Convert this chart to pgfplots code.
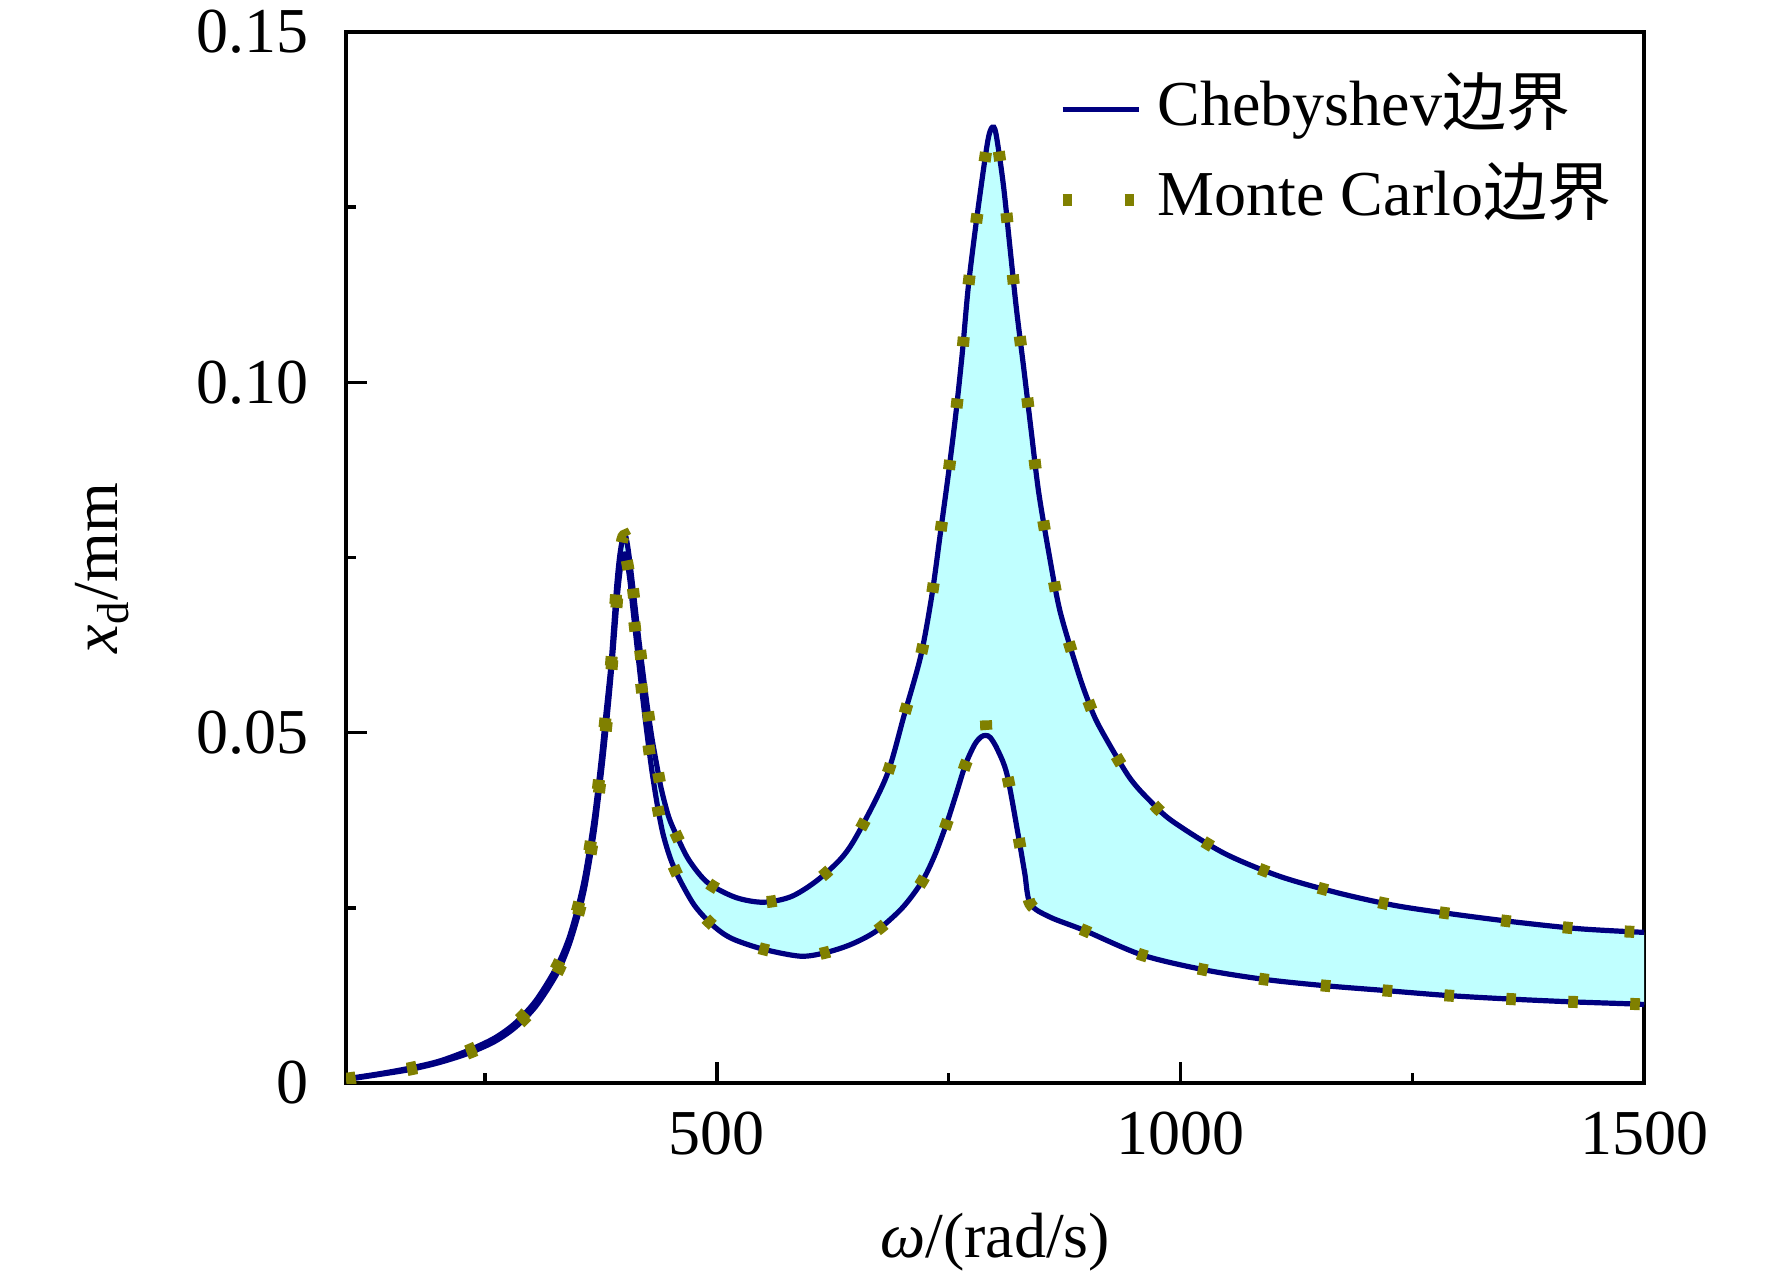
\documentclass[border=0pt]{standalone}
\usepackage{fontspec}
\setmainfont{Liberation Serif}
\newfontfamily\cjk{Noto Sans CJK SC}
\usepackage{pgfplots}
\pgfplotsset{compat=1.18}
\usepgfplotslibrary{fillbetween}
\usepackage{pgfplotstable}
\definecolor{cheb}{RGB}{0,0,128}
\definecolor{mc}{RGB}{128,128,0}
\definecolor{band}{RGB}{192,255,255}

\pgfplotstableread{
x y
100 0.0006
135 0.0013
168 0.0021
200 0.0031
231 0.0046
260 0.0064
283 0.0086
305 0.0118
327 0.0165
340 0.0205
350 0.0250
357 0.0290
363 0.0336
368 0.0380
372 0.0423
376 0.0470
379 0.0510
383 0.0560
386 0.0600
389 0.0655
392 0.0710
395 0.0750
398 0.0775
400 0.0781
402 0.0779
405 0.0755
410 0.0700
415 0.0642
420 0.0588
425 0.0537
430 0.0492
435 0.0455
440 0.0420
448 0.0380
457 0.0352
470 0.0318
490 0.0286
520 0.0265
550 0.0258
580 0.0266
608 0.0289
635 0.0322
653 0.0358
683 0.0438
702 0.0525
720 0.0610
732 0.0697
741 0.0784
750 0.0872
758 0.0958
765 0.1046
771 0.1134
779 0.1221
788 0.1308
793 0.1350
797 0.1364
801 0.1355
809 0.1282
816 0.1194
823 0.1106
831 0.1020
839 0.0931
847 0.0844
858 0.0757
870 0.0674
889 0.0589
900 0.0547
912 0.0510
944 0.0438
967 0.0403
991 0.0374
1047 0.0328
1107 0.0295
1171 0.0271
1233 0.0253
1300 0.0240
1366 0.0229
1432 0.0220
1500 0.0215
}\tabU

\pgfplotstableread{
x y
100 0.0005
135 0.0012
168 0.0019
200 0.0029
231 0.0042
260 0.0059
283 0.0080
305 0.0110
327 0.0155
340 0.0195
350 0.0238
357 0.0276
363 0.0320
368 0.0362
372 0.0405
376 0.0450
380 0.0500
384 0.0555
387 0.0600
390 0.0650
393 0.0700
396 0.0735
399 0.0752
401 0.0755
403 0.0745
406 0.0720
410 0.0670
415 0.0610
420 0.0550
425 0.0495
430 0.0445
436 0.0395
442 0.0355
450 0.0320
460 0.0290
475 0.0255
490 0.0232
505 0.0215
520 0.0204
550 0.0191
590 0.0181
617 0.0186
645 0.0198
672 0.0217
700 0.0250
721 0.0287
735 0.0325
748 0.0371
758 0.0412
768 0.0454
778 0.0483
785 0.0494
790 0.0496
795 0.0493
803 0.0475
813 0.0440
825 0.0354
832 0.0300
838 0.0256
859 0.0237
896 0.0218
958 0.0183
1024 0.0162
1090 0.0148
1155 0.0139
1221 0.0132
1287 0.0125
1353 0.0120
1419 0.0116
1485 0.0113
1500 0.0112
}\tabL

\pgfplotstableread{
x y
100 0.0005
135 0.0012
168 0.0019
200 0.0029
231 0.0042
260 0.0059
283 0.0080
305 0.0110
327 0.0155
340 0.0195
350 0.0238
357 0.0276
363 0.0320
368 0.0362
372 0.0405
376 0.0450
380 0.0500
384 0.0555
387 0.0600
390 0.0650
393 0.0700
396 0.0735
399 0.0752
401 0.0755
403 0.0745
406 0.0720
410 0.0670
415 0.0610
420 0.0550
425 0.0495
430 0.0445
436 0.0395
442 0.0355
450 0.0320
460 0.0290
475 0.0255
490 0.0232
505 0.0215
520 0.0204
550 0.0191
590 0.0181
617 0.0186
645 0.0198
672 0.0217
700 0.0250
721 0.0287
735 0.0325
748 0.0371
758 0.0412
768 0.0454
778 0.0483
785 0.0494
789 0.0500
790 0.0522
791 0.0500
795 0.0493
803 0.0475
813 0.0440
825 0.0354
832 0.0300
838 0.0256
859 0.0237
896 0.0218
958 0.0183
1024 0.0162
1090 0.0148
1155 0.0139
1221 0.0132
1287 0.0125
1353 0.0120
1419 0.0116
1485 0.0113
1500 0.0112
}\tabML

\begin{document}
\fontsize{16}{19.2}\selectfont
\begin{tikzpicture}
\begin{axis}[
  at={(86.5pt,48.75pt)}, anchor=south west,
  scale only axis, width=324.5pt, height=262.75pt,
  xmin=100, xmax=1500, ymin=0, ymax=0.15,
  xtick={500,1000,1500}, xticklabels={500,1000,1500},
  minor xtick={250,750,1250},
  ytick={0,0.05,0.10,0.15}, yticklabels={0,0.05,0.10,0.15},
  minor ytick={0.025,0.075,0.125},
  scaled y ticks=false, scaled x ticks=false,
  tick pos=left, tick align=inside,
  major tick length=5.25pt, minor tick length=2.5pt,
  tick style={black, line width=0.85pt},
  axis line style={line width=0.85pt},
  /pgf/number format/assume math mode=true,
  xticklabel style={yshift=-1.6pt},
  yticklabel style={xshift=-3.85pt},
  xlabel={\textit{ω}/(rad/s)},
  ylabel={\textit{x}\textsubscript{d}/mm},
  xlabel style={at={(axis description cs:0.5,-0.151)}, anchor=center},
  ylabel style={at={(axis description cs:-0.188,0.49)}, anchor=center},
  legend style={draw=none, fill=none, at={(axis description cs:0.5475,0.957)}, anchor=north west,
    inner sep=0pt, outer sep=0pt, row sep=6.6pt,
    nodes={inner ysep=0pt, inner xsep=3.3pt, text height=12pt, text depth=4pt}},
  legend cell align=left,
  legend image code/.code={\draw[#1] (0pt,0pt) -- (19pt,0pt);},
]
\addplot[draw=none, smooth, tension=0.5, name path=U, forget plot] table {\tabU};
\addplot[draw=none, smooth, tension=0.5, name path=L, forget plot] table {\tabL};
\addplot[fill=band, draw=none, forget plot] fill between[of=U and L];
\addplot[cheb, line width=1.3pt, smooth, tension=0.5] table {\tabU};
\addlegendentry{Chebyshev{\cjk 边界}}
\addplot[cheb, line width=1.3pt, smooth, tension=0.5, forget plot] table {\tabL};
\addplot[mc, line width=3pt, smooth, tension=0.5, dash pattern=on 2.4pt off 13.1pt] table {\tabU};
\addlegendentry{Monte Carlo{\cjk 边界}}
\addplot[mc, line width=3pt, smooth, tension=0.5, dash pattern=on 2.4pt off 13.1pt, forget plot] table {\tabML};
\end{axis}
\pgfresetboundingbox
\path[use as bounding box] (0,0) rectangle (443pt,319.5pt);
\end{tikzpicture}
\end{document}
